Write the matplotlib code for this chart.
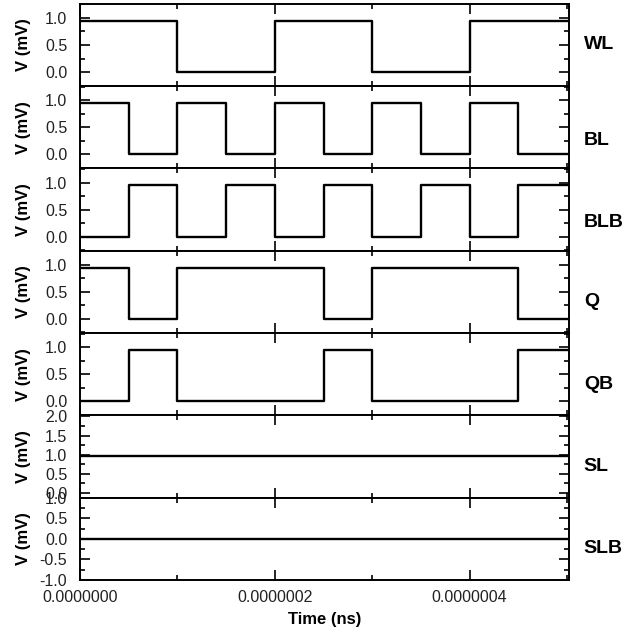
"""
SRAM cell waveforms: WL, BL, BLB, Q, QB, SL, SLB stacked on a shared time axis.
"""
import numpy as np
import matplotlib
matplotlib.use("Agg")
import matplotlib.pyplot as plt
from matplotlib.ticker import MultipleLocator, FormatStrFormatter

plt.rcParams["font.family"] = ["Liberation Sans", "DejaVu Sans"]

# edge times (s) and logic levels (V) for each signal, step after each edge
t_wl = [0.0, 1.0e-7, 2.0e-7, 3.0e-7, 4.0e-7, 5.0e-7]
v_wl = [0.95, 0.0, 0.95, 0.0, 0.95, 0.95]

t_bl = [0.0, 0.5e-7, 1.0e-7, 1.5e-7, 2.0e-7, 2.5e-7, 3.0e-7, 3.5e-7, 4.0e-7, 4.5e-7, 5.0e-7]
v_bl = [0.95, 0.0, 0.95, 0.0, 0.95, 0.0, 0.95, 0.0, 0.95, 0.0, 0.0]

t_blb = t_bl
v_blb = [0.0, 0.95, 0.0, 0.95, 0.0, 0.95, 0.0, 0.95, 0.0, 0.95, 0.95]

t_q = [0.0, 0.5e-7, 1.0e-7, 2.5e-7, 3.0e-7, 4.5e-7, 5.0e-7]
v_q = [0.95, 0.0, 0.95, 0.0, 0.95, 0.0, 0.0]

t_qb = t_q
v_qb = [0.0, 0.95, 0.0, 0.95, 0.0, 0.95, 0.95]

t_sl = [0.0, 5.0e-7]
v_sl = [0.95, 0.95]

t_slb = [0.0, 5.0e-7]
v_slb = [0.0, 0.0]

names = ["WL", "BL", "BLB", "Q", "QB", "SL", "SLB"]
times = [t_wl, t_bl, t_blb, t_q, t_qb, t_sl, t_slb]
levels = [v_wl, v_bl, v_blb, v_q, v_qb, v_sl, v_slb]

# y ranges / tick steps per panel
ylims = [(-0.26, 1.26)] * 5 + [(-0.13, 2.03), (-1.0, 1.0)]
yticks = [[0.0, 0.5, 1.0]] * 5 + [[0.0, 0.5, 1.0, 1.5, 2.0], [-1.0, -0.5, 0.0, 0.5, 1.0]]
label_y = [0.5, 0.34, 0.34, 0.38, 0.38, 0.38, 0.38]


def main():
    fig = plt.figure(figsize=(6.24, 6.38), dpi=100)
    gs = fig.add_gridspec(7, 1, left=0.128, right=0.912, top=0.994, bottom=0.091, hspace=0)
    axes = [fig.add_subplot(gs[i]) for i in range(7)]

    for i, ax in enumerate(axes):
        ax.step(times[i], levels[i], where="post", color="black", lw=1.7)
        ax.set_xlim(0, 5.02e-7)
        ax.set_ylim(*ylims[i])
        ax.set_yticks(yticks[i])
        ax.yaxis.set_minor_locator(MultipleLocator(0.25))
        ax.yaxis.set_major_formatter(FormatStrFormatter("%.1f"))
        ax.xaxis.set_major_locator(MultipleLocator(2e-7))
        ax.xaxis.set_minor_locator(MultipleLocator(1e-7))
        ax.xaxis.set_major_formatter(FormatStrFormatter("%.7f"))
        ax.tick_params(which="both", direction="in", top=True, right=True,
                       width=1.2, labelsize=11.5, colors="black", labelcolor="#222222")
        ax.tick_params(which="major", length=7)
        ax.tick_params(axis="y", which="major", pad=9)
        ax.tick_params(axis="x", which="major", pad=7)
        ax.tick_params(which="minor", length=3.5)
        for s in ax.spines.values():
            s.set_linewidth(1.4)
        if i < 6:
            ax.tick_params(labelbottom=False)
        ax.set_ylabel("V (mV)", fontsize=12, fontweight="bold")
        ax.yaxis.set_label_coords(-0.1, 0.5)
        ax.text(1.03, label_y[i], names[i], transform=ax.transAxes,
                fontsize=14, fontweight="bold", va="center", ha="left")

    axes[-1].set_xlabel("Time (ns)", fontsize=12, fontweight="bold", labelpad=5)

    fig.savefig("out.png", dpi=100)
    plt.close(fig)


if __name__ == "__main__":
    main()
